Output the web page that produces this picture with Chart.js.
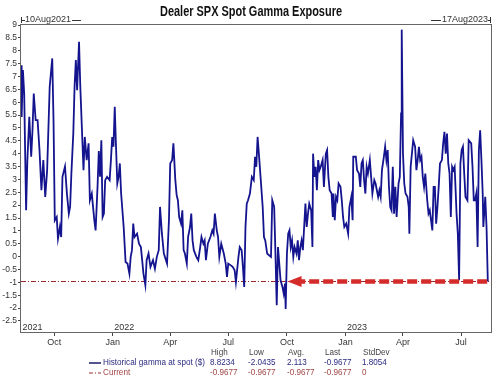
<!DOCTYPE html>
<html>
<head>
<meta charset="utf-8">
<script src="https://cdn.jsdelivr.net/npm/chart.js@4/dist/chart.umd.min.js"></script>
<style>
  body { margin: 0; background: #fff; }
  canvas { display: block; }
</style>
</head>
<body>
<canvas id="chart" width="500" height="383"></canvas>
<script>
// days since 10Aug2021
const days = [0,1,3,5,8,10,13,16,18,20,23,26,29,32,35,38,41,45,49,51,53,56,58,61,63,65,69,72,75,77,79,82,84,86,88,91,93,96,98,100,103,106,108,111,115,117,120,122,124,126,128,130,132,135,139,141,143,145,147,149,151,153,155,157,161,164,167,170,172,174,176,178,182,185,188,190,192,195,197,200,203,207,210,213,216,218,221,224,229,232,234,237,239,242,244,246,248,251,253,255,257,260,262,265,267,269,271,275,278,281,283,286,288,290,293,297,300,302,304,307,309,311,314,318,321,323,325,329,332,335,337,341,343,346,348,350,352,354,356,359,362,365,367,369,371,373,376,379,381,383,386,389,392,394,397,399,401,403,405,407,410,412,414,415,417,419,421,423,425,427,429,432,434,436,438,440,442,444,446,448,450,452,455,457,458,460,462,464,466,468,470,473,475,478,480,482,484,487,489,490,492,494,496,498,501,503,505,507,510,513,515,518,520,521,525,527,530,532,534,536,538,540,542,544,547,549,551,554,556,558,560,562,564,566,569,571,573,575,577,579,581,583,585,587,589,592,594,596,597,599,601,603,606,608,609,611,615,618,620,622,624,626,628,630,632,634,637,639,641,643,645,647,649,651,653,655,657,660,662,664,666,668,670,672,674,676,678,680,683,685,687,689,691,693,695,697,700,702,706,708,710,712,714,716,718,720,722,724,725,728,730,732];

const gamma = [7.44,5.43,7.25,6.34,1.8,3.75,5.43,3.88,4.9,6.34,5.3,5.3,4.14,2.58,3.75,2.32,3.36,6.6,7.7,5.3,1.41,1.54,0.7,1.15,0.76,3.1,3.5,2.45,1.67,1.93,3.23,4.78,6.6,7.64,6.47,8.35,6.6,4.65,3.36,4.65,3.75,4.4,2.19,2.45,1.41,1.02,2.71,4.1,3.1,4.52,1.54,1.67,2.97,3.1,2.97,3.75,4.65,4.27,5.82,4.27,2.84,3.1,3.62,2.45,1.15,-0.21,-0.27,-0.66,-0.01,0.25,1.28,0.76,0.89,0.5,0.37,-0.14,-0.66,-1.11,-0.14,0.12,-0.4,-0.14,-0.47,-0.01,0.25,1.93,0.89,0.12,-0.27,1.41,3.62,3.75,4.4,2.97,2.4,2.19,1.54,1.28,1.8,0.25,0.12,-0.27,0.76,1.15,1.67,0.63,0.25,-0.01,-0.14,0.37,0.76,0.5,0.63,-0.14,0.5,0.76,1.02,0.89,1.67,1.02,0.76,-0.01,0.5,0.12,-0.27,-0.79,-0.27,-0.34,-0.4,-0.53,-0.99,-0.01,0.37,0.25,-0.4,-1.18,1.15,2.06,2.19,2.45,3.1,2.97,3.88,3.49,4.65,4.0,2.97,1.93,0.76,0.63,0.12,0.05,-0.01,2.19,1.93,0.12,-1.89,0.37,-0.27,-0.92,-1.18,-1.44,-1.05,-2.04,0.12,0.89,1.02,0.37,0.63,-0.01,0.37,0.12,0.63,-0.14,0.37,0.63,0.25,1.15,2.06,1.15,1.67,2.06,1.8,0.37,4.0,3.1,3.49,2.58,3.75,3.36,3.49,3.75,2.71,4.0,4.14,3.1,2.58,2.45,1.54,2.45,1.41,2.32,2.19,2.84,2.71,2.19,1.54,1.15,1.28,0.89,1.93,2.32,1.41,3.88,3.88,3.36,3.23,2.71,3.62,3.75,2.97,2.45,3.49,3.23,3.75,3.1,2.45,2.97,2.84,2.58,2.32,2.58,2.32,3.36,3.88,4.27,3.75,4.14,2.71,1.93,1.8,3.49,1.67,2.71,1.54,2.84,3.1,5.56,8.82,4.0,2.84,2.45,2.32,1.93,0.89,3.49,4.52,4.27,3.36,3.75,4.27,3.75,3.88,3.1,2.71,3.23,2.19,1.67,1.8,1.41,1.02,2.71,2.71,1.28,1.93,2.71,3.62,3.75,4.4,4.85,4.0,4.78,3.62,3.23,1.54,3.49,3.36,3.49,1.67,0.89,-0.92,3.62,4.14,4.27,3.23,2.32,2.19,4.52,4.4,3.49,2.19,2.19,2.45,0.37,4.14,4.91,3.75,2.45,1.15,2.32,1.15,-0.97];

const currentValue = -0.9677;
const totalDays = 737;

// month ticks (days since 10Aug2021)
const monthDays = [52, 144, 234, 325, 417, 509, 599, 690];
const monthLabels = ['Oct', 'Jan', 'Apr', 'Jul', 'Oct', 'Jan', 'Apr', 'Jul'];
const yearDays = [0, 144, 509];
const yearLabels = ['2021', '2022', '2023'];

const yTicks = [-2.5, -2, -1.5, -1, -0.5, 0, 0.5, 1, 1.5, 2, 2.5, 3, 3.5, 4, 4.5, 5, 5.5, 6, 6.5, 7, 7.5, 8, 8.5, 9];

// arrow annotation: from last point back to Oct 2022
const arrowFrom = 731;
const arrowTo = 418;

const statHeaders = ['High', 'Low', 'Avg.', 'Last', 'StdDev'];
const gammaStats = ['8.8234', '-2.0435', '2.113', '-0.9677', '1.8054'];
const currentStats = ['-0.9677', '-0.9677', '-0.9677', '-0.9677', '0'];

const FONT = '"Liberation Sans", Arial, sans-serif';
const NAVY = '#14148f';
const RED_LINE = '#9a2a2a';

// draw text squeezed to a narrower width, like the original condensed font
function narrowText(ctx, text, x, y, squeeze) {
    ctx.save();
    ctx.translate(x, y);
    ctx.scale(squeeze, 1);
    ctx.fillText(text, 0, 0);
    ctx.restore();
}

const decorations = {
    id: 'decorations',
    afterDatasetsDraw(chart) {
        const ctx = chart.ctx;
        const area = chart.chartArea;
        const xs = chart.scales.x;
        const ys = chart.scales.y;

        // big red dashed arrow
        const y = ys.getPixelForValue(currentValue);
        const x1 = xs.getPixelForValue(arrowFrom);
        const x2 = xs.getPixelForValue(arrowTo);
        ctx.save();
        ctx.strokeStyle = '#d42b2b';
        ctx.fillStyle = '#d42b2b';
        ctx.lineWidth = 4.5;
        ctx.setLineDash([10, 4]);
        ctx.beginPath();
        ctx.moveTo(x1, y);
        ctx.lineTo(x2 + 12, y);
        ctx.stroke();
        ctx.setLineDash([]);
        ctx.beginPath();
        ctx.moveTo(x2, y);
        ctx.lineTo(x2 + 14, y - 5.5);
        ctx.lineTo(x2 + 14, y + 5.5);
        ctx.closePath();
        ctx.fill();
        ctx.restore();

        // frame
        ctx.save();
        ctx.strokeStyle = '#666';
        ctx.lineWidth = 1;
        ctx.strokeRect(area.left - 0.5, area.top - 0.5, area.right - area.left + 1, area.bottom - area.top + 1);
        ctx.restore();

        // year labels inside the plot
        ctx.save();
        ctx.font = '9px ' + FONT;
        ctx.fillStyle = '#333';
        ctx.textBaseline = 'alphabetic';
        ctx.textAlign = 'left';
        yearDays.forEach((d, i) => {
            ctx.fillText(yearLabels[i], xs.getPixelForValue(d) + 1.5, area.bottom - 2);
        });
        ctx.restore();

        // title
        ctx.save();
        ctx.font = 'bold 14px ' + FONT;
        ctx.fillStyle = '#111';
        ctx.textAlign = 'center';
        ctx.textBaseline = 'alphabetic';
        const tw = ctx.measureText('Dealer SPX Spot Gamma Exposure').width;
        narrowText(ctx, 'Dealer SPX Spot Gamma Exposure', 251, 16, 182 / tw);
        ctx.restore();

        // start / end date markers
        ctx.save();
        ctx.font = '9px ' + FONT;
        ctx.fillStyle = '#333';
        ctx.strokeStyle = '#333';
        ctx.lineWidth = 1;
        ctx.textBaseline = 'middle';
        const ty = 20;
        ctx.beginPath();
        ctx.moveTo(area.left + 0.5, ty - 3); ctx.lineTo(area.left + 0.5, ty + 3);
        ctx.moveTo(area.left, ty + 0.5); ctx.lineTo(area.left + 4, ty + 0.5);
        ctx.stroke();
        ctx.textAlign = 'left';
        ctx.fillText('10Aug2021', area.left + 4, ty);
        let w = ctx.measureText('10Aug2021').width;
        ctx.beginPath();
        ctx.moveTo(area.left + 5 + w, ty + 0.5); ctx.lineTo(area.left + 14 + w, ty + 0.5);
        ctx.stroke();

        const r = area.right;
        ctx.beginPath();
        ctx.moveTo(r - 0.5, ty - 3); ctx.lineTo(r - 0.5, ty + 3);
        ctx.moveTo(r, ty + 0.5); ctx.lineTo(r - 3, ty + 0.5);
        ctx.stroke();
        ctx.textAlign = 'right';
        ctx.fillText('17Aug2023', r - 3, ty);
        w = ctx.measureText('17Aug2023').width;
        ctx.beginPath();
        ctx.moveTo(r - 4 - w, ty + 0.5); ctx.lineTo(r - 14 - w, ty + 0.5);
        ctx.stroke();
        ctx.restore();

        // legend with stats table
        ctx.save();
        ctx.font = '9px ' + FONT;
        ctx.textBaseline = 'middle';
        ctx.textAlign = 'left';
        const cols = [210, 248, 287, 324, 362];
        const sq = 0.9;
        ctx.fillStyle = '#444';
        statHeaders.forEach((h, i) => narrowText(ctx, h, cols[i] + 1, 353, sq));

        ctx.strokeStyle = '#1a1a6a';
        ctx.lineWidth = 1.5;
        ctx.beginPath();
        ctx.moveTo(89, 363); ctx.lineTo(101, 363);
        ctx.stroke();
        ctx.fillStyle = '#2b2b80';
        const lw = ctx.measureText('Historical gamma at spot ($)').width;
        narrowText(ctx, 'Historical gamma at spot ($)', 103, 363, 102 / lw);
        gammaStats.forEach((s, i) => narrowText(ctx, s, cols[i], 363, sq));

        ctx.strokeStyle = RED_LINE;
        ctx.lineWidth = 1;
        ctx.setLineDash([4, 2, 1, 2]);
        ctx.beginPath();
        ctx.moveTo(89, 373); ctx.lineTo(101, 373);
        ctx.stroke();
        ctx.setLineDash([]);
        ctx.fillStyle = '#a04545';
        narrowText(ctx, 'Current', 103, 373, 102 / lw);
        currentStats.forEach((s, i) => narrowText(ctx, s, cols[i], 373, sq));
        ctx.restore();
    }
};

const ctx = document.getElementById('chart').getContext('2d');
new Chart(ctx, {
    type: 'line',
    data: {
        datasets: [{
            label: 'Historical gamma at spot ($)',
            data: days.map((d, i) => ({ x: d, y: gamma[i] })),
            borderColor: NAVY,
            borderWidth: 1.8,
            pointRadius: 0,
            tension: 0,
            order: 1
        }, {
            label: 'Current',
            data: [{ x: 0, y: currentValue }, { x: totalDays, y: currentValue }],
            borderColor: RED_LINE,
            borderWidth: 1,
            borderDash: [5, 2, 1, 2],
            pointRadius: 0,
            order: 2
        }]
    },
    options: {
        responsive: false,
        animation: false,
        layout: { padding: { top: 25, right: 9, left: 0, bottom: 0 } },
        plugins: {
            legend: { display: false },
            tooltip: { enabled: false }
        },
        scales: {
            x: {
                type: 'linear',
                min: 0,
                max: totalDays,
                afterFit: s => { s.height = 51; },
                afterBuildTicks: s => { s.ticks = monthDays.map(v => ({ value: v })); },
                ticks: {
                    autoSkip: false,
                    maxRotation: 0,
                    padding: 1,
                    color: '#333',
                    font: { family: FONT, size: 9 },
                    callback: (v, i) => monthLabels[i]
                },
                grid: { drawOnChartArea: false, tickLength: 4, color: '#444' },
                border: { display: false }
            },
            y: {
                min: -2.93,
                max: 9,
                afterFit: s => { s.width = 21; },
                afterBuildTicks: s => { s.ticks = yTicks.map(v => ({ value: v })); },
                ticks: {
                    autoSkip: false,
                    padding: 1,
                    color: '#333',
                    font: { family: FONT, size: 8.5 },
                    callback: v => String(v)
                },
                grid: { drawOnChartArea: false, tickLength: 3, color: '#444' },
                border: { display: false }
            }
        }
    },
    plugins: [decorations]
});
</script>
</body>
</html>
